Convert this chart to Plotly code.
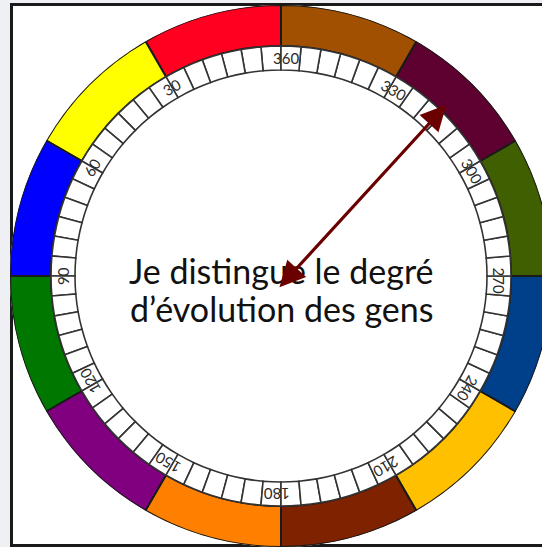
import numpy as np
import plotly.graph_objects as go

# ---- data ----
segment_start = [0, 30, 60, 90, 120, 150, 180, 210, 240, 270, 300, 330]
segment_colors = ["#FF0020", "#FFFF00", "#0000FF", "#007800", "#800080", "#FF8000",
                  "#7E2200", "#FFC000", "#00408A", "#3F5F00", "#5E0030", "#A05000"]
tick_step = 5
tick_angles = list(range(0, 360, tick_step))
label_angles = [30, 60, 90, 120, 150, 180, 210, 240, 270, 300, 330, 360]
label_texts = ["30", "60", "90", "120", "150", "180", "210", "240", "270", "300", "330", "360"]
arrow_theta = [167, 316]
arrow_r = [13, 238]
center_lines = ["Je distingue le degré", "d’évolution des gens"]

# radii (radial axis units)
R_OUT = 271
R_COLOR_IN = 230
R_TICK_IN = 206
R_LABEL = 218

# figure geometry
W, H = 552, 547
CX, CY = 281, 276  # centre in px from top-left


def to_px(theta, r):
    t = np.radians(theta)
    return CX - r * np.sin(t), CY - r * np.cos(t)


def to_paper(theta, r):
    px, py = to_px(theta, r)
    return px / W, 1 - py / H


fig = go.Figure()

# colored ring
fig.add_trace(go.Barpolar(
    theta=[s + 15 for s in segment_start],
    r=[R_OUT - R_COLOR_IN] * len(segment_start),
    base=R_COLOR_IN,
    width=[30] * len(segment_start),
    marker=dict(color=segment_colors, line=dict(color="#1a1a1a", width=2)),
    hoverinfo="skip",
))

# graduated ring
fig.add_trace(go.Barpolar(
    theta=[a + tick_step / 2 for a in tick_angles],
    r=[R_COLOR_IN - R_TICK_IN] * len(tick_angles),
    base=R_TICK_IN,
    width=[tick_step] * len(tick_angles),
    marker=dict(color="white", line=dict(color="#333333", width=1.6)),
    hoverinfo="skip",
))

fig.update_layout(
    width=W, height=H,
    margin=dict(l=0, r=0, t=0, b=0),
    paper_bgcolor="#EFF0F3",
    showlegend=False,
    polar=dict(
        domain=dict(x=[(CX - R_OUT) / W, (CX + R_OUT) / W],
                    y=[1 - (CY + R_OUT) / H, 1 - (CY - R_OUT) / H]),
        bgcolor="white",
        hole=0,
        radialaxis=dict(range=[0, R_OUT], visible=False),
        angularaxis=dict(rotation=90, direction="counterclockwise",
                         showticklabels=False, showgrid=False, showline=False, ticks=""),
    ),
    shapes=[dict(type="rect", xref="paper", yref="paper", layer="below",
                 x0=11.5 / W, x1=1.2, y0=1 - 545.5 / H, y1=1 - 4.5 / H,
                 fillcolor="white", line=dict(color="#1a1a1a", width=3))],
)

annotations = []
# degree labels (centre slightly shifted clockwise so the tick cuts after the first digit)
for a, t in zip(label_angles, label_texts):
    shift = 1.2 if len(t) == 3 else 0.0
    x, y = to_paper(a - shift, R_LABEL)
    annotations.append(dict(x=x, y=y, xref="paper", yref="paper", text=t,
                            showarrow=False, textangle=-(a % 360),
                            xanchor="center", yanchor="middle",
                            font=dict(family="Lato", size=15, color="#2a2a2a")))

# centre text (two lines)
for line, yc in zip(center_lines, [270, 308]):
    annotations.append(dict(x=CX / W, y=1 - yc / H, xref="paper", yref="paper",
                            text=line, showarrow=False,
                            xanchor="center", yanchor="middle",
                            font=dict(family="Lato", size=34, color="#111111")))

# double arrow
(t0x, t0y), (t1x, t1y) = to_px(arrow_theta[0], arrow_r[0]), to_px(arrow_theta[1], arrow_r[1])
annotations.append(dict(x=t1x / W, y=1 - t1y / H, xref="paper", yref="paper",
                        ax=t0x - t1x, ay=t0y - t1y, axref="pixel", ayref="pixel",
                        showarrow=True, arrowhead=2, startarrowhead=2, arrowside="end+start",
                        arrowsize=1.6, startarrowsize=1.6, arrowwidth=3.2,
                        arrowcolor="#6A0000", text="", standoff=0, startstandoff=0))
fig.update_layout(annotations=annotations)

fig.write_html("out.html",
               config={"displayModeBar": False},
               post_script="document.body.style.margin='0';document.body.style.overflow='hidden';")
